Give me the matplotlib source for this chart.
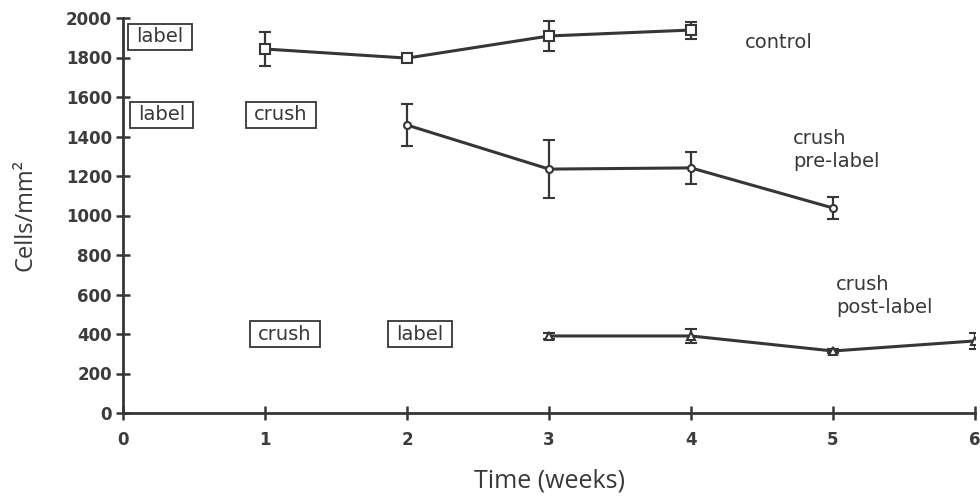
import matplotlib
matplotlib.use("Agg")
import matplotlib.pyplot as plt
from matplotlib.path import Path

weeks_control = [1, 2, 3, 4]
control = [1843, 1797, 1909, 1939]
control_err = [86, 10, 76, 43]

weeks_pre = [2, 3, 4, 5]
pre_label = [1458, 1235, 1241, 1038]
pre_err = [108, 147, 81, 58]

weeks_post = [3, 4, 5, 6]
post_label = [390, 390, 314, 365]
post_err = [15, 35, 10, 40]

x_ticks = [0, 1, 2, 3, 4, 5, 6]
y_ticks = [0, 200, 400, 600, 800, 1000, 1200, 1400, 1600, 1800, 2000]

boxes = [("label", 0.26, 1904), ("label", 0.27, 1509), ("crush", 1.11, 1509),
         ("crush", 1.14, 400), ("label", 2.09, 400)]
series_labels = [("control", 4.38, 1878), ("crush\npre-label", 4.72, 1332),
                 ("crush\npost-label", 5.02, 592)]

ink = "#363636"
txtc = "#383838"


def wide_box(x0, y0, width, height, mutation_size):
    px = 0.42 * mutation_size
    py = 0.18 * mutation_size
    x0, y0 = x0 - px, y0 - py
    x1, y1 = x0 + width + 2 * px, y0 + height + 2 * py
    return Path([(x0, y0), (x1, y0), (x1, y1), (x0, y1), (x0, y0)], closed=True)


fig = plt.figure(figsize=(9.8, 5.0), dpi=100)
ax = fig.add_axes([123/980, 87/500, 852/980, 395/500])

common = dict(color=ink, lw=2.2, elinewidth=1.6, capsize=4, capthick=1.6,
              markerfacecolor="white", markeredgecolor=ink, markeredgewidth=1.5)
ax.errorbar(weeks_control, control, yerr=control_err, marker="s", ms=6.5, **common)
ax.errorbar(weeks_pre, pre_label, yerr=pre_err, marker="o", ms=5, **common)
ax.errorbar(weeks_post, post_label, yerr=post_err, marker="^", ms=6, **common)

ax.set_xlim(0, 6)
ax.set_ylim(0, 2000)
ax.set_xticks(x_ticks)
ax.set_yticks(y_ticks)
for s in ["top", "right"]:
    ax.spines[s].set_visible(False)
for s in ["left", "bottom"]:
    ax.spines[s].set_color(ink)
    ax.spines[s].set_linewidth(2.0)
ax.tick_params(direction="inout", length=10, width=1.8, colors=ink,
               labelsize=12, pad=3)
ax.tick_params(axis="x", pad=8)
for lab in ax.get_xticklabels() + ax.get_yticklabels():
    lab.set_fontfamily("DejaVu Sans")
    lab.set_fontweight("bold")
    lab.set_color("#3c3c3c")

ax.set_xlabel("Time (weeks)", fontfamily="Open Sans", fontsize=18, color=txtc, labelpad=14)
ax.set_ylabel("Cells/mm²", fontfamily=["Open Sans", "DejaVu Sans"], fontsize=17,
              color=txtc, labelpad=20)

for txt, x, y in boxes:
    ax.text(x, y, txt, ha="center", va="center", fontsize=14, fontfamily="DejaVu Sans",
            color=txtc,
            bbox=dict(boxstyle=wide_box, fc="white", ec=ink, lw=1.3))
for txt, x, y in series_labels:
    ax.text(x, y, txt, ha="left", va="center", fontsize=14, fontfamily="DejaVu Sans",
            color=txtc, linespacing=1.3)

fig.savefig("out.png", dpi=100, facecolor="white")
